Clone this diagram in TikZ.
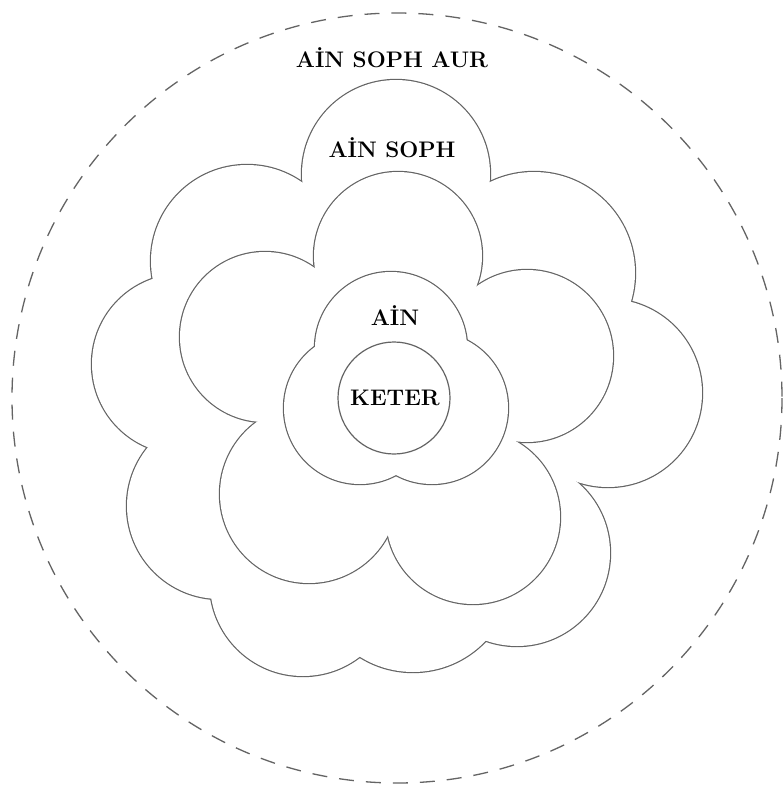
\documentclass[tikz,border=0pt]{standalone}
\usepackage{tikz}
\definecolor{inkGray}{RGB}{100,100,100}

% lobes as centre-x/centre-y/radius, in pixels of the plate
\newcommand{\sophLobes}{396/174/94, 247/261/96, 182/364/90, 220/506/93, 303/583/93,
                        413/572/100, 517/553/93, 608/393/94, 534/273/101}
\newcommand{\midLobes}{398/256/84, 265/337/85, 309/494/89, 473/517/87, 527/356/86}
\newcommand{\ainLobes}{391/348/76, 360/408/76, 432/408/76}

\begin{document}
\begin{tikzpicture}[x=1pt, y=-1pt, font=\bfseries\fontsize{22.5}{26}\selectfont,
  rim/.style={draw=inkGray, line width=2.4pt},
  veil/.style={fill=white},
  ring/.style={draw=inkGray, line width=1.2pt},
  lbl/.style={inner sep=0pt, anchor=base, text=black}]

  \useasboundingbox (0,0) rectangle (783,796);
  \fill[white] (0,0) rectangle (783,796);

  % ain soph aur
  \draw[ring, line width=1.3pt, dash pattern=on 15pt off 12pt] (397,398) circle[radius=385];

  % ain soph: outer bloom
  \foreach \cx/\cy/\r in \sophLobes
    \draw[rim] (\cx,\cy) circle[radius=\r];
  \foreach \cx/\cy/\r in \sophLobes
    \fill[veil] (\cx,\cy) circle[radius=\r];
  \begin{scope}[shift={(397,400)}, scale=0.93, shift={(-397,-400)}]
    \fill[veil] (303,183) -- (153,280) -- (146,449) -- (211,598) -- (360,657)
      -- (483,640) -- (578,482) -- (630,302) -- (490,182) -- cycle;
  \end{scope}

  % middle bloom
  \foreach \cx/\cy/\r in \midLobes
    \draw[rim] (\cx,\cy) circle[radius=\r];
  \foreach \cx/\cy/\r in \midLobes
    \fill[veil] (\cx,\cy) circle[radius=\r];
  \begin{scope}[shift={(395,400)}, scale=0.9, shift={(-395,-400)}]
    \fill[veil] (315,268) -- (257,422) -- (388,535) -- (516,441) -- (477,287) -- cycle;
  \end{scope}

  % ain: three lobes
  \foreach \cx/\cy/\r in \ainLobes
    \draw[rim] (\cx,\cy) circle[radius=\r];
  \foreach \cx/\cy/\r in \ainLobes
    \fill[veil] (\cx,\cy) circle[radius=\r];

  % keter
  \draw[ring] (394,398) circle[radius=56];

  \node[lbl] (aur)   at (392,67)  {AİN SOPH AUR};
  \node[lbl] (soph)  at (392,157) {AİN SOPH};
  \node[lbl] (ain)   at (395,325) {AİN};
  \node[lbl] (keter) at (395,405) {KETER};

\end{tikzpicture}
\end{document}
